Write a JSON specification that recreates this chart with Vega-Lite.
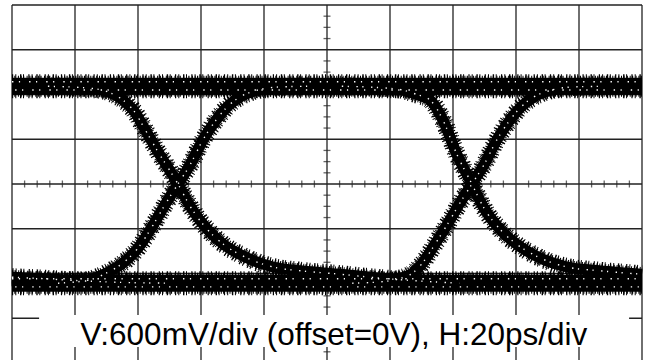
{
 "$schema": "https://vega.github.io/schema/vega-lite/v6.json",
 "width": 630, "height": 355,
 "autosize": {"type": "none"},
 "padding": {"left": 12, "top": 5, "right": 5, "bottom": 0},
 "background": "white",
 "config": {"view": {"stroke": null}},
 "datasets": {
  "vgrid": [{"t":-100},{"t":-80},{"t":-60},{"t":-40},{"t":-20},{"t":0},{"t":20},{"t":40},{"t":60},{"t":80},{"t":100}],
  "hgrid": [{"v":2.4},{"v":1.8},{"v":1.2},{"v":0.6},{"v":0},{"v":-0.6},{"v":-1.2},{"v":-1.8}],
  "xticks": [{"t":-96,"v":0},{"t":-92,"v":0},{"t":-88,"v":0},{"t":-84,"v":0},{"t":-76,"v":0},{"t":-72,"v":0},{"t":-68,"v":0},{"t":-64,"v":0},{"t":-56,"v":0},{"t":-52,"v":0},{"t":-48,"v":0},{"t":-44,"v":0},{"t":-36,"v":0},{"t":-32,"v":0},{"t":-28,"v":0},{"t":-24,"v":0},{"t":-16,"v":0},{"t":-12,"v":0},{"t":-8,"v":0},{"t":-4,"v":0},{"t":4,"v":0},{"t":8,"v":0},{"t":12,"v":0},{"t":16,"v":0},{"t":24,"v":0},{"t":28,"v":0},{"t":32,"v":0},{"t":36,"v":0},{"t":44,"v":0},{"t":48,"v":0},{"t":52,"v":0},{"t":56,"v":0},{"t":64,"v":0},{"t":68,"v":0},{"t":72,"v":0},{"t":76,"v":0},{"t":84,"v":0},{"t":88,"v":0},{"t":92,"v":0},{"t":96,"v":0}],
  "yticks": [{"t":0,"v":-2.25},{"t":0,"v":-2.1},{"t":0,"v":-1.95},{"t":0,"v":-1.65},{"t":0,"v":-1.5},{"t":0,"v":-1.35},{"t":0,"v":-1.05},{"t":0,"v":-0.9},{"t":0,"v":-0.75},{"t":0,"v":-0.45},{"t":0,"v":-0.3},{"t":0,"v":-0.15},{"t":0,"v":0.15},{"t":0,"v":0.3},{"t":0,"v":0.45},{"t":0,"v":0.75},{"t":0,"v":0.9},{"t":0,"v":1.05},{"t":0,"v":1.35},{"t":0,"v":1.5},{"t":0,"v":1.65},{"t":0,"v":1.95},{"t":0,"v":2.1},{"t":0,"v":2.25}],
  "label": [{"t": 2.2, "v": -2.159, "text": "V:600mV/div (offset=0V), H:20ps/div"}],
  "box": [{"t": -91.4, "t2": 95.9, "v": -1.757, "v2": -2.186}],
  "bands": [
   {"s":"top","t":-100,"v":1.31},{"s":"top","t":100,"v":1.31},
   {"s":"bottom","t":-100,"v":-1.33},{"s":"bottom","t":100,"v":-1.33}
  ],
  "specks": [
   {"s":"ta","t":-100,"v":1.37},{"s":"ta","t":100,"v":1.37},
   {"s":"tb","t":-99,"v":1.26},{"s":"tb","t":100,"v":1.26},
   {"s":"ba","t":-100,"v":-1.27},{"s":"ba","t":100,"v":-1.27},
   {"s":"bb","t":-99,"v":-1.38},{"s":"bb","t":100,"v":-1.38}
  ],
  "edges": [
   {"s":"F0","t":-100,"v":-1.25},{"s":"F0","t":-89.8,"v":-1.27},{"s":"F0","t":-77.1,"v":-1.3},{"s":"F0","t":-64.6,"v":-1.32},{"s":"F0","t":-50,"v":-1.33},
   {"s":"R1","t":-85.4,"v":-1.33},{"s":"R1","t":-75.9,"v":-1.29},{"s":"R1","t":-69.8,"v":-1.19},{"s":"R1","t":-64.8,"v":-1.06},{"s":"R1","t":-60.0,"v":-0.86},{"s":"R1","t":-55.2,"v":-0.55},{"s":"R1","t":-51.1,"v":-0.255},{"s":"R1","t":-47.3,"v":0},{"s":"R1","t":-43.5,"v":0.255},{"s":"R1","t":-39.4,"v":0.59},{"s":"R1","t":-35.2,"v":0.858},{"s":"R1","t":-31.4,"v":1.046},{"s":"R1","t":-27.6,"v":1.167},{"s":"R1","t":-21.9,"v":1.26},{"s":"R1","t":-15.6,"v":1.3},{"s":"R1","t":-6.0,"v":1.31},
   {"s":"F1","t":-88.6,"v":1.31},{"s":"F1","t":-75.9,"v":1.287},{"s":"F1","t":-69.5,"v":1.234},{"s":"F1","t":-64.8,"v":1.126},{"s":"F1","t":-60.6,"v":0.939},{"s":"F1","t":-58.4,"v":0.778},{"s":"F1","t":-54.0,"v":0.456},{"s":"F1","t":-47.3,"v":0},{"s":"F1","t":-43.5,"v":-0.295},{"s":"F1","t":-38.1,"v":-0.603},{"s":"F1","t":-33.0,"v":-0.805},{"s":"F1","t":-26.7,"v":-0.965},{"s":"F1","t":-17.1,"v":-1.113},{"s":"F1","t":-7.6,"v":-1.167},{"s":"F1","t":3.5,"v":-1.207},{"s":"F1","t":16.2,"v":-1.26},{"s":"F1","t":29.0,"v":-1.3},{"s":"F1","t":42,"v":-1.33},
   {"s":"R2","t":8,"v":-1.33},{"s":"R2","t":17.4,"v":-1.31},{"s":"R2","t":23,"v":-1.27},{"s":"R2","t":27.3,"v":-1.19},{"s":"R2","t":30.5,"v":-1.05},{"s":"R2","t":33.7,"v":-0.845},{"s":"R2","t":38.1,"v":-0.55},{"s":"R2","t":42.2,"v":-0.255},{"s":"R2","t":46.0,"v":0},{"s":"R2","t":49.8,"v":0.255},{"s":"R2","t":53.9,"v":0.59},{"s":"R2","t":58.1,"v":0.858},{"s":"R2","t":61.9,"v":1.046},{"s":"R2","t":65.7,"v":1.167},{"s":"R2","t":71.4,"v":1.26},{"s":"R2","t":77.7,"v":1.3},{"s":"R2","t":87.3,"v":1.31},
   {"s":"F2","t":4.7,"v":1.31},{"s":"F2","t":17.4,"v":1.29},{"s":"F2","t":24,"v":1.26},{"s":"F2","t":28.5,"v":1.2},{"s":"F2","t":32.7,"v":1.126},{"s":"F2","t":36.8,"v":0.858},{"s":"F2","t":41,"v":0.42},{"s":"F2","t":46.0,"v":0},{"s":"F2","t":49.8,"v":-0.32},{"s":"F2","t":55.2,"v":-0.62},{"s":"F2","t":60.3,"v":-0.81},{"s":"F2","t":66.6,"v":-0.97},{"s":"F2","t":76.2,"v":-1.113},{"s":"F2","t":85.7,"v":-1.16},{"s":"F2","t":96.8,"v":-1.2},{"s":"F2","t":100,"v":-1.21}
  ]
 },
 "encoding": {
  "x": {"field": "t", "type": "quantitative", "scale": {"domain": [-100, 100], "nice": false, "zero": false}, "axis": null},
  "y": {"field": "v", "type": "quantitative", "scale": {"domain": [-2.36, 2.4], "nice": false, "zero": false}, "axis": null}
 },
 "layer": [
  {"data": {"name": "vgrid"}, "mark": {"type": "rule", "stroke": "#222", "strokeWidth": 1.3},
   "encoding": {"y": null}},
  {"data": {"name": "hgrid"}, "mark": {"type": "rule", "stroke": "#222", "strokeWidth": 1.3},
   "encoding": {"x": null}},
  {"data": {"name": "xticks"}, "mark": {"type": "tick", "orient": "vertical", "size": 7, "thickness": 1.3, "color": "#222"}},
  {"data": {"name": "yticks"}, "mark": {"type": "tick", "orient": "horizontal", "size": 7, "thickness": 1.3, "color": "#222"}},
  {"data": {"name": "bands"}, "mark": {"type": "line", "color": "black", "strokeWidth": 24, "strokeCap": "butt", "strokeDash": [1.2, 2.1, 1, 3.7, 1.4, 1.6, 1, 4.3]},
   "encoding": {"detail": {"field": "s"}}},
  {"data": {"name": "bands"}, "mark": {"type": "line", "color": "black", "strokeWidth": 21, "strokeCap": "butt", "strokeDash": [1, 1.3, 1.2, 2.4, 1, 1.8]},
   "encoding": {"detail": {"field": "s"}}},
  {"data": {"name": "bands"}, "mark": {"type": "line", "color": "black", "strokeWidth": 17, "strokeCap": "butt"},
   "encoding": {"detail": {"field": "s"}}},
  {"data": {"name": "edges"}, "mark": {"type": "line", "color": "black", "strokeWidth": 18, "strokeCap": "butt", "strokeDash": [1.2, 2.1, 1, 3.7, 1.4, 1.6, 1, 4.3], "interpolate": "monotone"},
   "encoding": {"detail": {"field": "s"}}},
  {"data": {"name": "edges"}, "mark": {"type": "line", "color": "black", "strokeWidth": 14.5, "strokeCap": "butt", "strokeDash": [1, 1.3, 1.2, 2.4, 1, 1.8], "interpolate": "monotone"},
   "encoding": {"detail": {"field": "s"}}},
  {"data": {"name": "edges"}, "mark": {"type": "line", "color": "black", "strokeWidth": 11, "strokeCap": "butt", "interpolate": "monotone"},
   "encoding": {"detail": {"field": "s"}}},
  {"data": {"name": "edges"}, "mark": {"type": "line", "color": "white", "strokeWidth": 1.4, "strokeCap": "butt", "strokeDash": [1.4, 4.5, 1.2, 7.5], "interpolate": "monotone"},
   "encoding": {"detail": {"field": "s"}}},
  {"data": {"name": "specks"}, "mark": {"type": "line", "color": "white", "strokeWidth": 1.4, "strokeCap": "butt", "strokeDash": [1.4, 5.5, 1.2, 9]},
   "encoding": {"detail": {"field": "s"}}},
  {"data": {"name": "box"}, "mark": {"type": "rect", "fill": "white"},
   "encoding": {"x2": {"field": "t2"}, "y2": {"field": "v2"}}},
  {"data": {"name": "label"}, "mark": {"type": "text", "font": "Liberation Sans", "fontSize": 31.5, "color": "black", "align": "center", "baseline": "alphabetic"},
   "encoding": {"text": {"field": "text"}}}
 ]
}
